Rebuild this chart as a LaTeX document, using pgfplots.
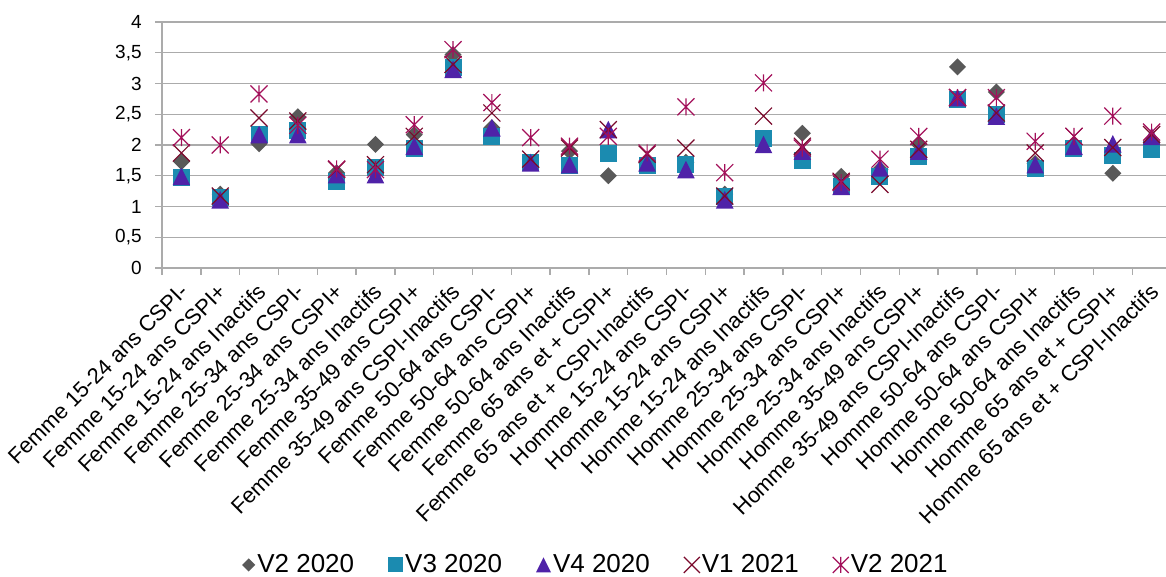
\documentclass[border=0pt]{standalone}
\usepackage{fontspec}
\setmainfont{Liberation Sans}
\usepackage{pgfplots}
\usepackage{pgfplotstable}
\pgfplotsset{compat=1.18}
\definecolor{cdia}{HTML}{595959}
\definecolor{csq}{HTML}{1B8BB0}
\definecolor{ctri}{HTML}{4F22A8}
\definecolor{cx}{HTML}{7A0A2C}
\definecolor{cast}{HTML}{A3105A}
\definecolor{cgrid}{HTML}{ABABAB}
\pgfdeclareplotmark{ediamond}{%
  \pgfpathmoveto{\pgfqpoint{0pt}{\pgfplotmarksize}}%
  \pgfpathlineto{\pgfqpoint{\pgfplotmarksize}{0pt}}%
  \pgfpathlineto{\pgfqpoint{0pt}{-\pgfplotmarksize}}%
  \pgfpathlineto{\pgfqpoint{-\pgfplotmarksize}{0pt}}%
  \pgfpathclose\pgfusepathqfill}
\pgfdeclareplotmark{esquare}{%
  \pgfpathrectangle{\pgfqpoint{-\pgfplotmarksize}{-\pgfplotmarksize}}{\pgfqpoint{2\pgfplotmarksize}{2\pgfplotmarksize}}%
  \pgfusepathqfill}
\pgfdeclareplotmark{etri}{%
  \pgfpathmoveto{\pgfqpoint{0pt}{\pgfplotmarksize}}%
  \pgfpathlineto{\pgfqpoint{\pgfplotmarksize}{-\pgfplotmarksize}}%
  \pgfpathlineto{\pgfqpoint{-\pgfplotmarksize}{-\pgfplotmarksize}}%
  \pgfpathclose\pgfusepathqfill}
\pgfdeclareplotmark{ecross}{%
  \pgfpathmoveto{\pgfqpoint{-\pgfplotmarksize}{-\pgfplotmarksize}}%
  \pgfpathlineto{\pgfqpoint{\pgfplotmarksize}{\pgfplotmarksize}}%
  \pgfpathmoveto{\pgfqpoint{-\pgfplotmarksize}{\pgfplotmarksize}}%
  \pgfpathlineto{\pgfqpoint{\pgfplotmarksize}{-\pgfplotmarksize}}%
  \pgfusepathqstroke}
\pgfdeclareplotmark{estar}{%
  \pgfpathmoveto{\pgfqpoint{-\pgfplotmarksize}{-\pgfplotmarksize}}%
  \pgfpathlineto{\pgfqpoint{\pgfplotmarksize}{\pgfplotmarksize}}%
  \pgfpathmoveto{\pgfqpoint{-\pgfplotmarksize}{\pgfplotmarksize}}%
  \pgfpathlineto{\pgfqpoint{\pgfplotmarksize}{-\pgfplotmarksize}}%
  \pgfpathmoveto{\pgfqpoint{0pt}{-\pgfplotmarksize}}%
  \pgfpathlineto{\pgfqpoint{0pt}{\pgfplotmarksize}}%
  \pgfusepathqstroke}
\pgfplotstableread{
x  a     b     c     d     e
1  1.73  1.47  1.49  1.87  2.12
2  1.20  1.14  1.11  1.17  2.00
3  2.02  2.17  2.17  2.44  2.83
4  2.46  2.24  2.17  2.39  2.32
5  1.55  1.41  1.52  1.60  1.61
6  2.01  1.63  1.52  1.68  1.60
7  2.17  1.95  1.98  2.14  2.33
8  3.47  3.26  3.23  3.31  3.55
9  2.28  2.14  2.28  2.52  2.69
10 1.72  1.71  1.71  1.77  2.12
11 1.90  1.67  1.68  1.95  1.98
12 1.50  1.86  2.25  2.25  2.14
13 1.70  1.67  1.71  1.85  1.87
14 1.72  1.68  1.60  1.95  2.62
15 1.20  1.17  1.11  1.17  1.55
16 2.05  2.10  2.01  2.47  3.01
17 2.19  1.74  1.90  1.98  1.95
18 1.49  1.33  1.33  1.41  1.39
19 1.60  1.49  1.63  1.36  1.77
20 2.02  1.81  1.90  1.93  2.14
21 3.27  2.74  2.77  2.77  2.77
22 2.86  2.50  2.47  2.52  2.77
23 1.70  1.62  1.68  1.87  2.06
24 2.00  1.95  1.98  2.14  2.14
25 1.54  1.83  2.02  1.96  2.47
26 2.05  1.93  2.14  2.17  2.21
}\data
\begin{document}
\begin{tikzpicture}
\useasboundingbox (0,0) rectangle (583pt,288.5pt);
\begin{axis}[
  at={(81pt,154.5pt)}, anchor=south west,
  scale only axis, width=504.5pt, height=123pt,
  xmin=0.5, xmax=26.5, ymin=0, ymax=4,
  xtick={1,...,26},
  xticklabels={Femme 15-24 ans CSPI-,Femme 15-24 ans CSPI+,Femme 15-24 ans Inactifs,Femme 25-34 ans CSPI-,Femme 25-34 ans CSPI+,Femme 25-34 ans Inactifs,Femme 35-49 ans CSPI+,Femme 35-49 ans CSPI-Inactifs,Femme 50-64 ans CSPI-,Femme 50-64 ans CSPI+,Femme 50-64 ans Inactifs,Femme 65 ans et + CSPI+,Femme 65 ans et + CSPI-Inactifs,Homme 15-24 ans CSPI-,Homme 15-24 ans CSPI+,Homme 15-24 ans Inactifs,Homme 25-34 ans CSPI-,Homme 25-34 ans CSPI+,Homme 25-34 ans Inactifs,Homme 35-49 ans CSPI+,Homme 35-49 ans CSPI-Inactifs,Homme 50-64 ans CSPI-,Homme 50-64 ans CSPI+,Homme 50-64 ans Inactifs,Homme 65 ans et + CSPI+,Homme 65 ans et + CSPI-Inactifs},
  minor xtick={0.5,1.5,...,26.5},
  ytick={0,0.5,...,4}, minor ytick={0,0.5,...,4},
  major tick length=0pt, minor tick length=3.5pt, tick align=outside,
  tick style={cgrid, line width=0.7pt},
  ymajorgrids, major grid style={cgrid, line width=0.7pt},
  axis x line*=bottom, axis y line*=left,
  axis line style={cgrid, line width=0.7pt, -},
  /pgf/number format/use comma,
  /pgf/number format/assume math mode=true,
  xticklabel style={font=\fontsize{11}{13}\selectfont, inner sep=0pt, xshift=-1.5pt, yshift=-7pt, rotate=45, anchor=north east},
  yticklabel style={font=\fontsize{9.5}{11}\selectfont, inner sep=0pt, xshift=-10pt, anchor=east},
  legend style={at={(0.430,-1.207)}, anchor=center, draw=none, legend columns=5,
    font=\fontsize{13}{15}\selectfont,
    /tikz/every even column/.append style={column sep=16pt},
    nodes={inner sep=1pt}},
  legend cell align=left,
  legend image code/.code={\draw[mark repeat=2,mark phase=2,#1] plot coordinates {(0pt,0pt)(6pt,0pt)(12pt,0pt)};},
]
\addplot[only marks, mark=ediamond, mark size=4.25pt, color=cdia, legend image post style={mark size=3.3pt}] table[x=x,y=a]{\data};
\addlegendentry{V2 2020}
\addplot[only marks, mark=esquare, mark size=4.25pt, color=csq, legend image post style={mark size=3.75pt}] table[x=x,y=b]{\data};
\addlegendentry{V3 2020}
\addplot[only marks, mark=etri, mark size=4.4pt, color=ctri, legend image post style={mark size=3.75pt}] table[x=x,y=c]{\data};
\addlegendentry{V4 2020}
\addplot[only marks, mark=ecross, mark size=4.25pt, color=cx, line width=0.6pt, legend image post style={mark size=4pt}] table[x=x,y=d]{\data};
\addlegendentry{V1 2021}
\addplot[only marks, mark=estar, mark size=4.25pt, color=cast, line width=0.6pt, legend image post style={mark size=4pt}] table[x=x,y=e]{\data};
\addlegendentry{V2 2021}
\end{axis}
\end{tikzpicture}
\end{document}
